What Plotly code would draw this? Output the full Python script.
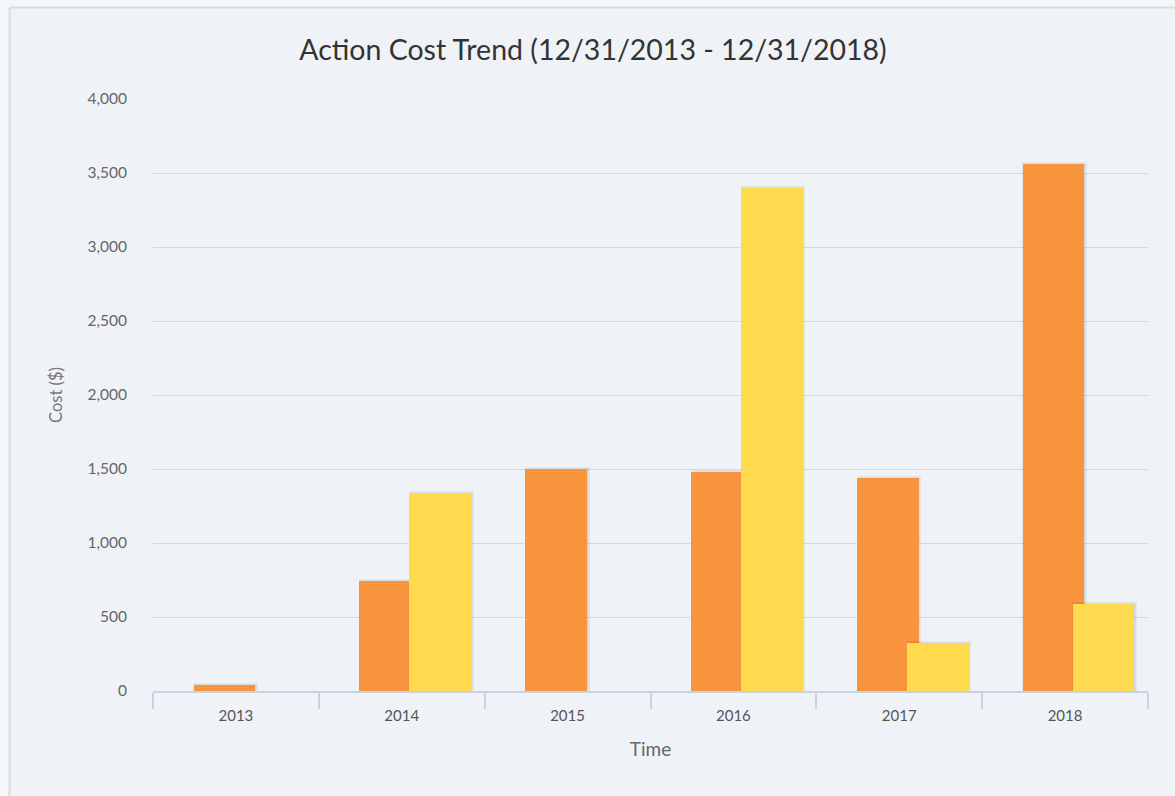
import plotly.graph_objects as go

# Chart data
years = ["2013", "2014", "2015", "2016", "2017", "2018"]
cost_orange = [40, 740, 1500, 1478, 1440, 3562]
cost_yellow = [None, 1336, None, 3397, 322, 586]
y_ticks = [0, 500, 1000, 1500, 2000, 2500, 3000, 3500, 4000]

ORANGE = "#F8943E"
YELLOW = "#FFDA4E"
BG = "#EFF3F7"
OUTER = "#F5F6F7"
BAR_W = 0.372
OFF_ORANGE = -0.255
OFF_YELLOW = 0.046
SHADOW_SHIFT = 0.01
FONT = "Lato, Open Sans, sans-serif"

fig = go.Figure()


def add_series(values, color, offset):
    # soft drop shadow behind each column
    fig.add_trace(go.Bar(
        x=years, y=values, width=BAR_W, offset=offset + SHADOW_SHIFT,
        marker=dict(color="rgba(0,0,0,0.07)",
                    line=dict(color="rgba(0,0,0,0.05)", width=3)),
        hoverinfo="skip", showlegend=False,
    ))
    fig.add_trace(go.Bar(
        x=years, y=values, width=BAR_W, offset=offset,
        marker=dict(color=color, line=dict(width=0)),
        showlegend=False,
    ))


add_series(cost_orange, ORANGE, OFF_ORANGE)
add_series(cost_yellow, YELLOW, OFF_YELLOW)

L, R, T, B = 153, 27, 99, 105
W, H = 1175, 796
pw, ph = W - L - R, H - T - B

px = lambda v: (v - L) / pw
py = lambda v: (H - B - v) / ph

# lighter margin outside the chart panel (left and top strips)
fig.add_shape(type="rect", xref="paper", yref="paper", layer="below",
              x0=px(-10), x1=px(9), y0=py(H + 10), y1=py(-10),
              fillcolor=OUTER, line=dict(width=0))
fig.add_shape(type="rect", xref="paper", yref="paper", layer="below",
              x0=px(-10), x1=px(W + 10), y0=py(7), y1=py(-10),
              fillcolor=OUTER, line=dict(width=0))
# panel border on the left and top
fig.add_shape(type="line", xref="paper", yref="paper", layer="below",
              x0=px(9.5), x1=px(9.5), y0=py(H + 10), y1=py(7.5),
              line=dict(color="#DADDE0", width=2))
fig.add_shape(type="line", xref="paper", yref="paper", layer="below",
              x0=px(9.5), x1=px(W + 10), y0=py(7.5), y1=py(7.5),
              line=dict(color="#DADDE0", width=2))

fig.update_layout(
    width=W, height=H,
    margin=dict(l=L, r=R, t=T, b=B),
    paper_bgcolor=BG,
    plot_bgcolor="rgba(0,0,0,0)",
    barmode="overlay",
    bargap=0,
    font=dict(family=FONT, color="#666666", size=14),
    title=dict(
        text="Action Cost Trend (12/31/2013 - 12/31/2018)",
        x=593 / W, xanchor="center", xref="container",
        y=1 - 50 / H, yanchor="middle", yref="container",
        font=dict(size=28.5, color="#333333", family=FONT),
    ),
    xaxis=dict(
        type="category", range=[-0.5, 5.5],
        showgrid=False, zeroline=False,
        showline=True, linecolor="#C6D4E2", linewidth=2,
        ticks="outside", tickson="boundaries", ticklen=16,
        tickcolor="#C6D4E2", tickwidth=2,
        ticklabelstandoff=10,
        tickfont=dict(size=15, color="#555555"),
        title=dict(text="Time", font=dict(size=19, color="#666666"), standoff=20),
    ),
    yaxis=dict(
        range=[0, 4000], tickvals=y_ticks,
        tickformat=",", showgrid=True, gridcolor="#D8D8D8", gridwidth=1,
        zeroline=False, showline=False, ticks="",
        ticklabelstandoff=25,
        tickfont=dict(size=15.5, color="#666666"),
        title=dict(text="Cost ($)", font=dict(size=16.5, color="#777777"), standoff=20),
    ),
)

fig.write_html("out.html")
